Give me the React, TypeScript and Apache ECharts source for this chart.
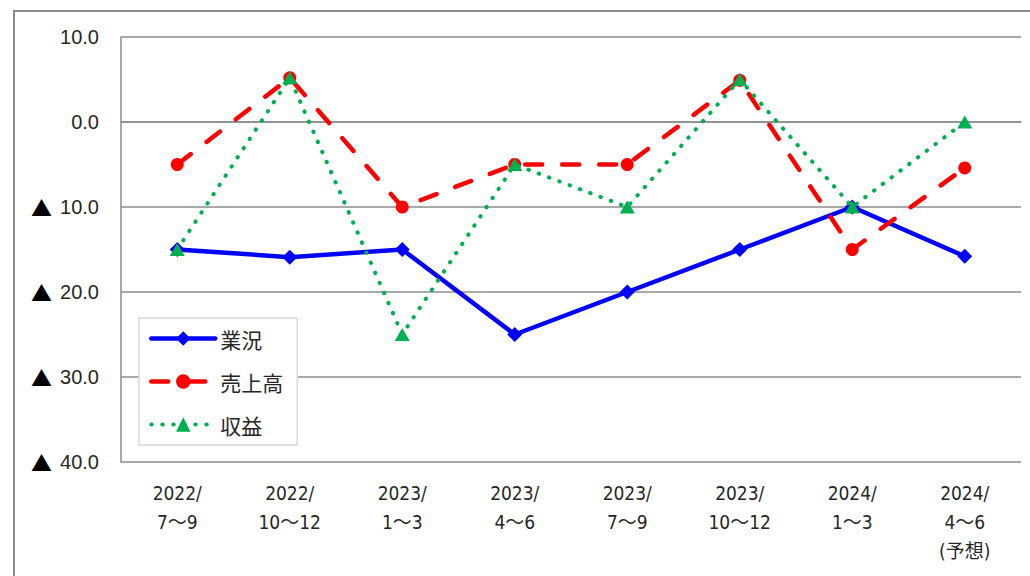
import React, { useEffect, useRef } from "react";
import * as echarts from "echarts";

const categories = [
  "2022/\n7～9",
  "2022/\n10～12",
  "2023/\n1～3",
  "2023/\n4～6",
  "2023/\n7～9",
  "2023/\n10～12",
  "2024/\n1～3",
  "2024/\n4～6\n(予想)",
];
const gyokyo = [-15.0, -15.9, -15.0, -25.0, -20.0, -15.0, -10.0, -15.8];
const uriage = [-5.0, 5.2, -10.0, -5.0, -5.0, 4.9, -15.0, -5.4];
const shueki = [-15.0, 5.2, -25.0, -5.0, -10.0, 5.0, -10.0, 0.0];
const seriesNames = ["業況", "売上高", "収益"];
const yMin = -40;
const yMax = 10;
const yStep = 10;

const fmtY = (v: number) =>
  v < 0 ? "{tri|▲}{num|" + Math.abs(v).toFixed(1) + "}" : "{num|" + v.toFixed(1) + "}";

export default function App() {
  const ref = useRef<HTMLDivElement>(null);
  useEffect(() => {
    if (!ref.current) return;
    const chart = echarts.init(ref.current, null, { renderer: "svg" });
    const gridColor = "#8c8c8c";
    chart.setOption({
      animation: false,
      backgroundColor: "#ffffff",
      grid: { left: 121, right: 9, top: 37, bottom: 114 },
      graphic: [
        {
          type: "rect",
          shape: { x: 14, y: 11, width: 1100, height: 700 },
          style: { fill: "none", stroke: "#8c8c8c", lineWidth: 2 },
          silent: true,
          z: -1,
        },
      ],
      legend: {
        orient: "vertical",
        left: 139,
        top: 318,
        padding: [10, 14, 10, 10],
        itemWidth: 64,
        itemHeight: 18,
        itemGap: 22,
        backgroundColor: "#ffffff",
        borderColor: "#d9d9d9",
        borderWidth: 1.5,
        borderRadius: 0,
        data: seriesNames,
        lineStyle: { width: "inherit" },
        textStyle: {
          fontFamily: "'Noto Sans CJK JP', sans-serif",
          fontSize: 21,
          color: "#262626",
          lineHeight: 21,
        },
        z: 10,
      },
      xAxis: {
        type: "category",
        data: categories,
        boundaryGap: true,
        axisLine: { show: true, lineStyle: { color: gridColor, width: 1.5 } },
        axisTick: { show: false },
        axisLabel: {
          interval: 0,
          margin: 16,
          fontFamily: "'Liberation Sans Narrow', 'DejaVu Sans Condensed', 'Noto Sans CJK JP', sans-serif",
          fontSize: 19,
          lineHeight: 29,
          color: "#262626",
        },
      },
      yAxis: {
        type: "value",
        min: yMin,
        max: yMax,
        interval: yStep,
        axisLine: { show: true, lineStyle: { color: gridColor, width: 1.5 } },
        axisTick: { show: false },
        splitLine: { show: true, lineStyle: { color: gridColor, width: 1.5 } },
        axisLabel: {
          margin: 22,
          color: "#262626",
          formatter: (v: number) => fmtY(v),
          rich: {
            num: {
              fontFamily: "'Liberation Sans', Arial, sans-serif",
              fontSize: 20,
              color: "#262626",
            },
            tri: {
              fontFamily: "'Noto Sans CJK JP', sans-serif",
              fontSize: 21,
              color: "#000000",
              padding: [0, 8, 0, 0],
            },
          },
        },
      },
      series: [
        {
          name: seriesNames[0],
          type: "line",
          data: gyokyo,
          symbol: "diamond",
          symbolSize: 15,
          itemStyle: { color: "#0000ff" },
          lineStyle: { color: "#0000ff", width: 4.5, cap: "round", join: "round" },
          z: 2,
        },
        {
          name: seriesNames[1],
          type: "line",
          data: uriage,
          symbol: "circle",
          symbolSize: 13,
          itemStyle: { color: "#ff0000" },
          lineStyle: { color: "#ff0000", width: 4.5, type: [17, 20], cap: "round", join: "round" },
          z: 3,
        },
        {
          name: seriesNames[2],
          type: "line",
          data: shueki,
          symbol: "triangle",
          symbolSize: [15, 13],
          itemStyle: { color: "#00b050" },
          lineStyle: { color: "#00b050", width: 4, type: [0.5, 10.5], cap: "round", join: "round" },
          z: 4,
        },
      ],
    });
    return () => chart.dispose();
  }, []);
  return (
    <div
      ref={ref}
      style={{ position: "absolute", left: 0, top: 0, width: 1030, height: 576 }}
    />
  );
}
